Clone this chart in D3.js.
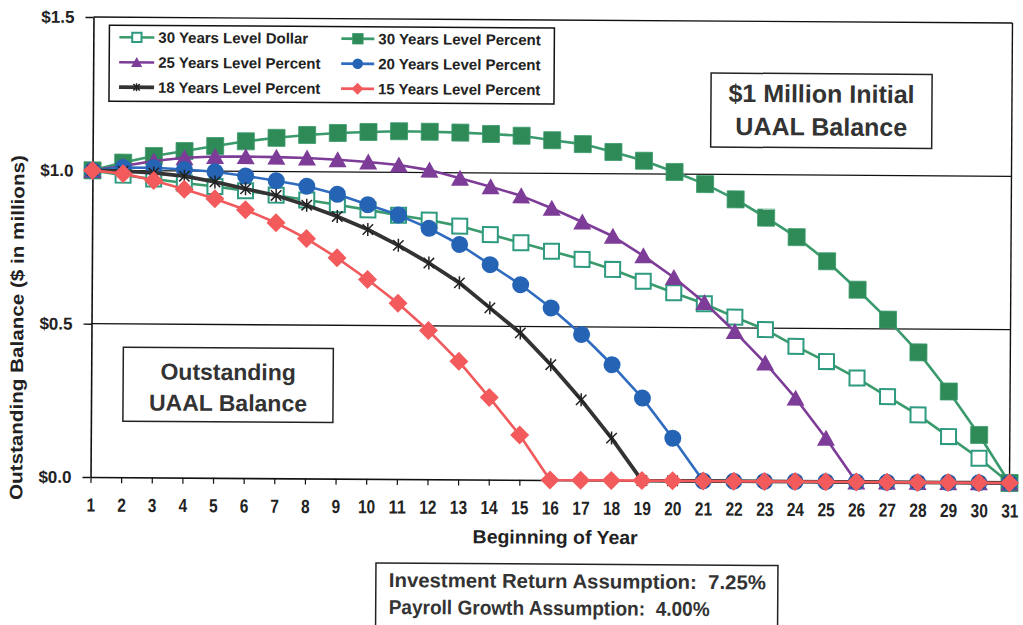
<!DOCTYPE html>
<html>
<head>
<meta charset="utf-8">
<script src="https://cdn.jsdelivr.net/npm/d3@7"></script>
<style>
  body { margin: 0; background: #fff; }
  svg { display: block; font-family: "Liberation Sans", Arial, sans-serif; }
</style>
</head>
<body>
<svg id="chart" width="1023" height="625"></svg>
<script>
// Beginning-of-year index (x axis categories)
const years = [1, 2, 3, 4, 5, 6, 7, 8, 9, 10, 11, 12, 13, 14, 15, 16, 17, 18, 19, 20,
               21, 22, 23, 24, 25, 26, 27, 28, 29, 30, 31];

// Outstanding UAAL balance, $ millions, for each amortization method
const levelDollar30 = [1.000, 0.985, 0.973, 0.961, 0.950, 0.937, 0.923, 0.908, 0.893, 0.877,
                       0.860, 0.845, 0.826, 0.799, 0.773, 0.746, 0.720, 0.688, 0.650, 0.613,
                       0.578, 0.535, 0.495, 0.441, 0.392, 0.339, 0.279, 0.220, 0.150, 0.080, 0.000];
const levelPct30 = [1.000, 1.026, 1.048, 1.065, 1.082, 1.098, 1.110, 1.120, 1.127, 1.131,
                    1.134, 1.133, 1.131, 1.127, 1.122, 1.108, 1.096, 1.071, 1.043, 1.007,
                    0.968, 0.919, 0.860, 0.797, 0.719, 0.627, 0.530, 0.424, 0.297, 0.156, 0.000];
const levelPct25 = [1.000, 1.015, 1.032, 1.043, 1.048, 1.048, 1.047, 1.045, 1.040, 1.033,
                    1.024, 1.008, 0.982, 0.955, 0.926, 0.886, 0.842, 0.796, 0.733, 0.663,
                    0.582, 0.488, 0.386, 0.272, 0.142, 0.000, 0.000, 0.000, 0.000, 0.000, 0.000];
const levelPct20 = [1.000, 1.010, 1.010, 1.005, 0.998, 0.985, 0.970, 0.953, 0.927, 0.894,
                    0.861, 0.818, 0.766, 0.701, 0.636, 0.561, 0.475, 0.377, 0.269, 0.139,
                    0.000, 0.000, 0.000, 0.000, 0.000, 0.000, 0.000, 0.000, 0.000, 0.000, 0.000];
const levelPct18 = [1.000, 0.998, 0.993, 0.983, 0.965, 0.943, 0.922, 0.891, 0.855, 0.813,
                    0.762, 0.705, 0.641, 0.560, 0.479, 0.376, 0.262, 0.138, 0.000, 0.000,
                    0.000, 0.000, 0.000, 0.000, 0.000, 0.000, 0.000, 0.000, 0.000, 0.000, 0.000];
const levelPct15 = [1.000, 0.990, 0.968, 0.940, 0.910, 0.875, 0.833, 0.782, 0.720, 0.650,
                    0.573, 0.485, 0.385, 0.268, 0.146, 0.000, 0.000, 0.000, 0.000, 0.000,
                    0.000, 0.000, 0.000, 0.000, 0.000, 0.000, 0.000, 0.000, 0.000, 0.000, 0.000];

const seriesNames = ["30 Years Level Dollar", "30 Years Level Percent", "25 Years Level Percent",
                     "20 Years Level Percent", "18 Years Level Percent", "15 Years Level Percent"];
const yTicks = [0, 0.5, 1.0, 1.5];
const boxTopText = ["$1 Million Initial", "UAAL Balance"];
const boxMidText = ["Outstanding", "UAAL Balance"];
const assumptionText = ["Investment Return Assumption:  7.25%", "Payroll Growth Assumption:  4.00%"];

const series = [
  { name: seriesNames[0], values: levelDollar30, line: "#3a9a6c", width: 2.6, marker: "openSquare", color: "#2e9a80" },
  { name: seriesNames[1], values: levelPct30,    line: "#3a9a6c", width: 2.6, marker: "square",     color: "#2e8b57" },
  { name: seriesNames[2], values: levelPct25,    line: "#7d3c98", width: 2.6, marker: "triangle",   color: "#7d3c98" },
  { name: seriesNames[3], values: levelPct20,    line: "#2f6cc0", width: 2.6, marker: "circle",     color: "#2563b5" },
  { name: seriesNames[4], values: levelPct18,    line: "#333333", width: 3.8, marker: "star",       color: "#222222" },
  { name: seriesNames[5], values: levelPct15,    line: "#f05a5c", width: 2.6, marker: "diamond",    color: "#f25a5c" }
];

const plot = { left: 92, right: 1011, top: 20, bottom: 480 };
const x = d3.scaleLinear().domain([1, 31]).range([plot.left, plot.right]);
const y = d3.scaleLinear().domain([0, 1.5]).range([plot.bottom, plot.top]);

const svg = d3.select("#chart");
svg.append("rect").attr("width", 1023).attr("height", 625).attr("fill", "#fff");

// whole page sits slightly tilted
const g = svg.append("g").attr("transform", "rotate(0.37 550 250)");

// plot frame: top and right edges
g.append("line").attr("x1", plot.left).attr("x2", plot.right)
  .attr("y1", plot.top).attr("y2", plot.top).attr("stroke", "#111").attr("stroke-width", 1.4);
g.append("line").attr("x1", plot.right).attr("x2", plot.right)
  .attr("y1", plot.top).attr("y2", plot.bottom).attr("stroke", "#111").attr("stroke-width", 1.4);

// horizontal gridlines
g.selectAll("line.grid").data([0.5, 1.0]).enter().append("line")
  .attr("class", "grid")
  .attr("x1", plot.left).attr("x2", plot.right)
  .attr("y1", d => y(d)).attr("y2", d => y(d))
  .attr("stroke", "#111").attr("stroke-width", 1.3);

// y axis
const yAxis = g.append("g").attr("transform", `translate(${plot.left},0)`)
  .call(d3.axisLeft(y).tickValues(yTicks).tickFormat(d => "$" + d.toFixed(1))
        .tickSize(8).tickSizeOuter(0).tickPadding(11));
yAxis.select(".domain").attr("stroke", "#111").attr("stroke-width", 1.6);
yAxis.selectAll(".tick line").attr("stroke", "#111").attr("stroke-width", 1.4);
yAxis.selectAll(".tick text").attr("font-size", 17).attr("font-weight", "bold")
  .attr("fill", "#222").attr("font-family", "'Liberation Sans', Arial, sans-serif");

// x axis (condensed bold digits)
const xAxis = g.append("g").attr("transform", `translate(0,${plot.bottom})`)
  .call(d3.axisBottom(x).tickValues(years).tickFormat(d => d)
        .tickSize(6).tickSizeOuter(0).tickPadding(15));
xAxis.select(".domain").attr("stroke", "#111").attr("stroke-width", 1.6);
xAxis.selectAll(".tick line").attr("stroke", "#111").attr("stroke-width", 1.2);
xAxis.selectAll(".tick text").attr("font-size", 19).attr("font-weight", "bold")
  .attr("fill", "#222").attr("font-family", "'Liberation Sans', Arial, sans-serif")
  .attr("textLength", d => String(d).length * 8.6)
  .attr("lengthAdjust", "spacingAndGlyphs");

// axis titles
g.append("text").attr("transform", "translate(17.5,331) rotate(-90)")
  .attr("text-anchor", "middle").attr("dy", "0.35em")
  .attr("font-size", 18).attr("font-weight", "bold").attr("fill", "#222")
  .attr("textLength", 345).attr("lengthAdjust", "spacingAndGlyphs")
  .text("Outstanding Balance ($ in millions)");
g.append("text").attr("x", 557).attr("y", 537).attr("dy", "0.35em")
  .attr("text-anchor", "middle")
  .attr("font-size", 19).attr("font-weight", "bold").attr("fill", "#222")
  .attr("textLength", 165).attr("lengthAdjust", "spacingAndGlyphs")
  .text("Beginning of Year");

// marker drawing
function drawMarker(sel, type, color, scale) {
  const s = scale || 1;
  if (type === "openSquare") {
    sel.append("rect").attr("x", -7.5 * s).attr("y", -7.5 * s)
      .attr("width", 15 * s).attr("height", 15 * s)
      .attr("fill", "#fff").attr("stroke", color).attr("stroke-width", 2);
  } else if (type === "square") {
    sel.append("rect").attr("x", -8.5 * s).attr("y", -8.5 * s)
      .attr("width", 17 * s).attr("height", 17 * s)
      .attr("fill", color).attr("stroke", "#3a9a6c").attr("stroke-width", 0.8);
  } else if (type === "triangle") {
    sel.append("path").attr("d", `M0,${-8.5 * s}L${9 * s},${7.5 * s}L${-9 * s},${7.5 * s}Z`)
      .attr("fill", color);
  } else if (type === "circle") {
    sel.append("circle").attr("r", 8.5 * s).attr("fill", color);
  } else if (type === "star") {
    const r = 6.5 * s;
    const d = r * 0.8;
    sel.append("path").attr("d", `M0,${-r}L0,${r}M${-d},${-d}L${d},${d}M${-d},${d}L${d},${-d}`)
      .attr("stroke", color).attr("stroke-width", 1.5).attr("fill", "none");
  } else if (type === "diamond") {
    const r = 9.5 * s;
    sel.append("path").attr("d", `M0,${-r}L${r},0L0,${r}L${-r},0Z`).attr("fill", color);
  }
}

// series: line first, then its markers
const lineGen = d3.line().x((d, i) => x(years[i])).y(d => y(d));
series.forEach(s => {
  const sg = g.append("g");
  sg.append("path").attr("d", lineGen(s.values))
    .attr("fill", "none").attr("stroke", s.line).attr("stroke-width", s.width)
    .attr("stroke-linejoin", "round");
  s.values.forEach((v, i) => {
    const m = sg.append("g").attr("transform", `translate(${x(years[i])},${y(v)})`);
    drawMarker(m, s.marker, s.color, 1);
  });
});

// legend
const legend = g.append("g");
legend.append("rect").attr("x", 108).attr("y", 28).attr("width", 445).attr("height", 76)
  .attr("fill", "#fff").attr("stroke", "#111").attr("stroke-width", 1.5);
const legendRows = [40, 65, 90];
const legendCols = [{ x0: 118, x1: 153, tx: 157 }, { x0: 340, x1: 373, tx: 377 }];
series.forEach((s, k) => {
  const col = legendCols[k % 2];
  const row = legendRows[Math.floor(k / 2)];
  legend.append("line").attr("x1", col.x0).attr("x2", col.x1).attr("y1", row).attr("y2", row)
    .attr("stroke", s.line).attr("stroke-width", s.width);
  const m = legend.append("g").attr("transform", `translate(${(col.x0 + col.x1) / 2},${row})`);
  drawMarker(m, s.marker, s.color, 0.62);
  legend.append("text").attr("x", col.tx).attr("y", row).attr("dy", "0.35em")
    .attr("font-size", 15).attr("font-weight", "bold").attr("fill", "#222")
    .text(s.name);
});

// annotation boxes
function textBox(x0, y0, w, h, lines, ys, size, anchorX, anchor, lengths) {
  const bg = g.append("g");
  bg.append("rect").attr("x", x0).attr("y", y0).attr("width", w).attr("height", h)
    .attr("fill", "#fff").attr("stroke", "#222").attr("stroke-width", 1.5);
  lines.forEach((t, i) => {
    const tx = bg.append("text").attr("x", anchorX).attr("y", ys[i]).attr("dy", "0.35em")
      .attr("text-anchor", anchor).attr("font-size", size).attr("font-weight", "bold")
      .attr("fill", "#333").style("white-space", "pre")
      .text(t);
    if (lengths) tx.attr("textLength", lengths[i]).attr("lengthAdjust", "spacingAndGlyphs");
  });
}
textBox(710, 72, 221, 74, boxTopText, [92, 125], 25, 820.5, "middle");
textBox(124, 350, 210, 74, boxMidText, [374, 405], 23, 229, "middle");
textBox(378, 564, 402, 90, assumptionText, [581, 608], 20, 391, "start", [377, 321]);
</script>
</body>
</html>
